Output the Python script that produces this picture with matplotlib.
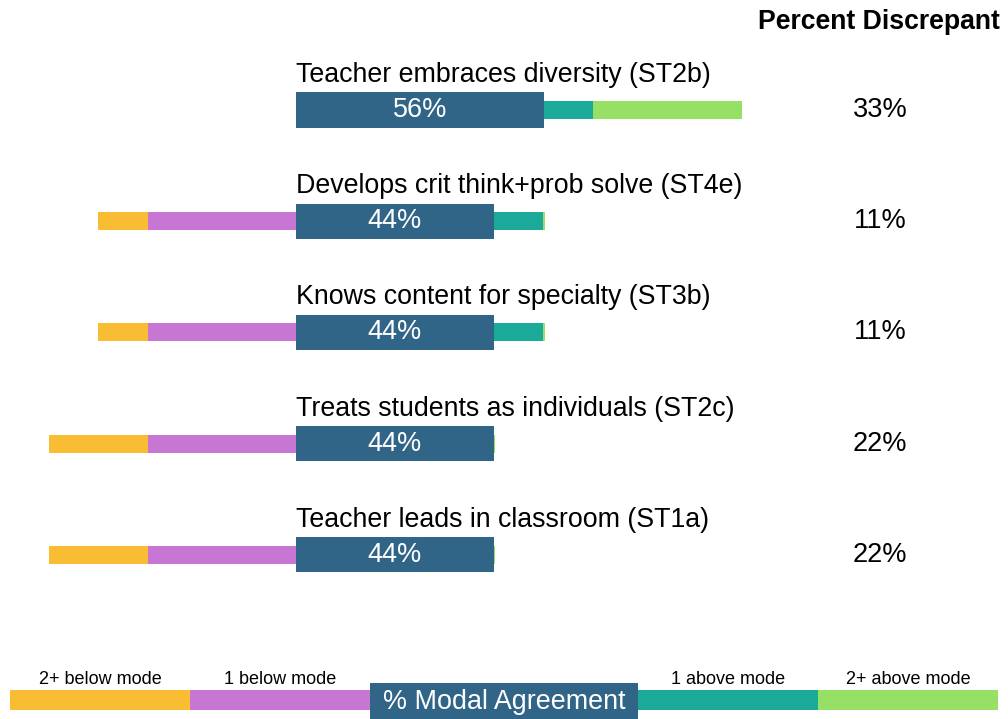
import matplotlib.pyplot as plt
import numpy as np

plt.rcParams['font.family'] = ['Liberation Sans', 'DejaVu Sans']

# данные: доли в процентах (9 оценщиков)
items = ['Teacher embraces diversity (ST2b)',
         'Develops crit think+prob solve (ST4e)',
         'Knows content for specialty (ST3b)',
         'Treats students as individuals (ST2c)',
         'Teacher leads in classroom (ST1a)']
below2 = [0, 11.1, 11.1, 22.2, 22.2]
below1 = [0, 33.3, 33.3, 33.3, 33.3]
modal = [55.6, 44.4, 44.4, 44.4, 44.4]
above1 = [11.1, 11.1, 11.1, 0, 0]
above2 = [33.3, 0.3, 0.3, 0.3, 0.3]
legend_labels = ['2+ below mode', '1 below mode', '% Modal Agreement', '1 above mode', '2+ above mode']

c_b2 = '#F8BD33'
c_b1 = '#C876D4'
c_mod = '#316587'
c_a1 = '#1BAA99'
c_a2 = '#96E065'

fig = plt.figure(figsize=(10.08, 7.19), dpi=100)
ax = fig.add_axes([0, 0, 1, 1])

k = 4.455  # px на 1%
ax.set_xlim(-296 / k, (1008 - 296) / k)
ax.set_ylim((719 - 110) / 111.2, -110 / 111.2)
ax.axis('off')

y = np.arange(len(items))
b2 = np.array(below2)
b1 = np.array(below1)
m = np.array(modal)
a1 = np.array(above1)
a2 = np.array(above2)

thin = 0.162
ax.barh(y, b2, left=-(b1 + b2), height=thin, color=c_b2)
ax.barh(y, b1, left=-b1, height=thin, color=c_b1)
ax.barh(y, a1, left=m, height=thin, color=c_a1)
ax.barh(y, a2, left=m + a1, height=thin, color=c_a2)
ax.barh(y, m, left=0, height=0.315, color=c_mod)

discrep = b2 + a2
for i in range(len(items)):
    ax.text(0, y[i] - 0.252, items[i], fontsize=19.3, ha='left', va='baseline', color='black')
    ax.text(m[i] / 2, y[i], f'{m[i]:.0f}%', fontsize=19.5, ha='center', va='center', color='white')
    ax.text((880 - 296) / k, y[i], f'{discrep[i]:.0f}%', fontsize=19.5, ha='center', va='center', color='black')

fig.text(1000 / 1008, 1 - 22 / 719, 'Percent Discrepant', fontsize=19.2, fontweight='bold',
         ha='right', va='center')

# легенда внизу
lax = fig.add_axes([0, 0, 1, 1], facecolor='none')
lax.set_xlim(0, 1008)
lax.set_ylim(719, 0)
lax.axis('off')
seg = [(10, 190, c_b2), (190, 380, c_b1), (630, 818, c_a1), (818, 998, c_a2)]
for x0, x1, c in seg:
    lax.barh(700, x1 - x0, left=x0, height=20, color=c)
lax.barh(701, 268, left=370, height=36, color=c_mod)
lax.text(504, 702, legend_labels[2], fontsize=19.4, color='white', ha='center', va='center')
for lab, xc in zip([legend_labels[0], legend_labels[1], legend_labels[3], legend_labels[4]],
                   [100, 280, 728, 908]):
    lax.text(xc, 680, lab, fontsize=13, ha='center', va='center', color='black')

plt.savefig('out.png', dpi=100)
